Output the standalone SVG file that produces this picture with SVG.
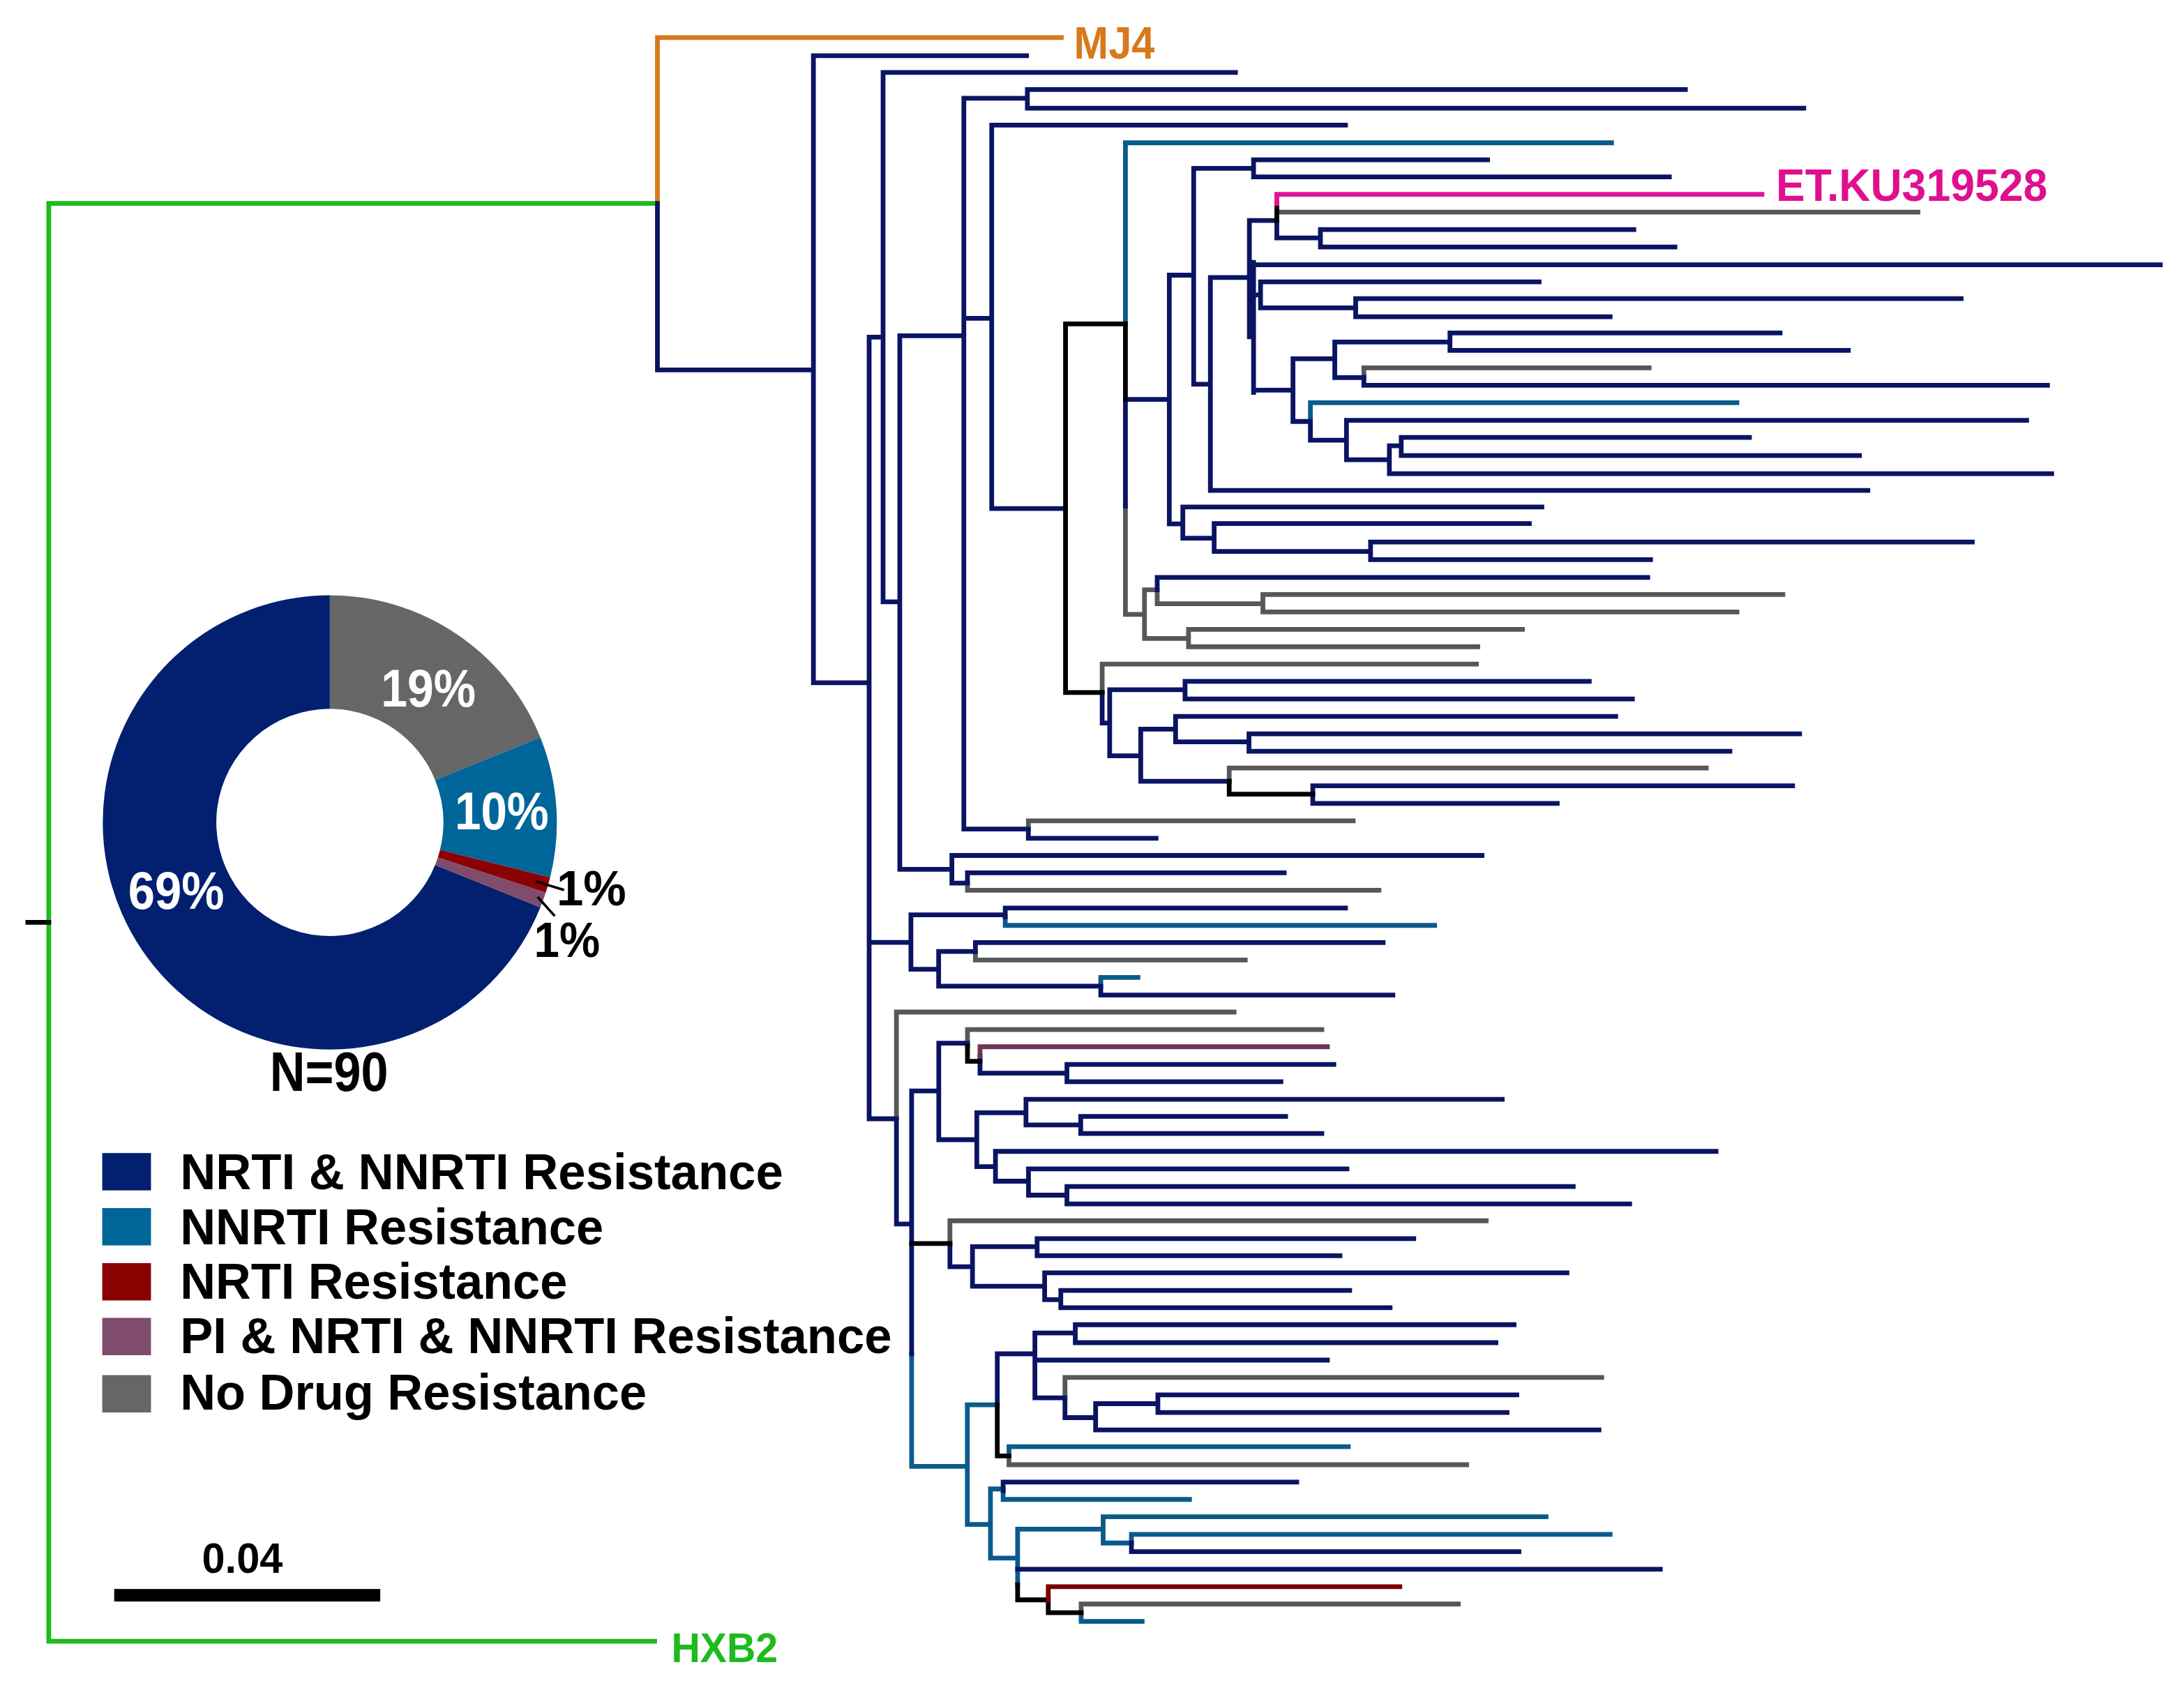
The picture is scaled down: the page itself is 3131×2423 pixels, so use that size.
<svg xmlns="http://www.w3.org/2000/svg" width="3131" height="2423" viewBox="0 0 3131 2423">
<style>
.br{fill:none;stroke-width:3.4;stroke-linecap:square}
.b{stroke:#0a1463}.t{stroke:#0b5a8c}.gy{stroke:#575757}.k{stroke:#000}.pu{stroke:#6b3656}.r{stroke:#7a0000}.pk{stroke:#e0139a}.gr{stroke:#1dbb1d}.or{stroke:#d67a1c}
text{font-family:"Liberation Sans",Arial,sans-serif;font-weight:bold}
.lab{font-size:32px}
.leg{font-size:36px;fill:#000}
.pct{font-size:38px;fill:#fff}
</style>
<rect width="3131" height="2423" fill="#fff"/>
<g transform="scale(1.99681 1.99753)">
<g id="connectors">
<path class="br gr" d="M35 146V1178M35 146H472M35 1178H470"/>
<path class="br or" d="M472 146V27H762"/>
<path class="br gy" d="M738.3 589.2V595M738.3 589.2H971.5M694.6 633V639M694.6 639H990M700.3 683V689M700.3 689H894M643.6 726.4V803M643.6 726.4H886M694.6 739V751M694.6 739H949M682 876.2V892.5M682 876.2H1067M764.6 988.7V1003.3M764.6 988.7H1150M724.4 1045V1051.3M724.4 1051.3H1053M776.2 1151.3V1157.5M776.2 1151.3H1047M916.7 152.3H1377M979.2 264V270.8M979.2 264H1184M808 363.3V441M808 441H821.7M821.7 423.3V458.3M821.7 423.3H830.8M830.8 423.3V433.3M830.8 433.3H906.7M906.7 426.7V439.2M906.7 426.7H1280M906.7 439.2H1247M821.7 458.3H853.3M853.3 451.7V464.2M853.3 451.7H1093M853.3 464.2H1061M791.3 476.7V497M791.3 476.7H1060M882.5 551.2V560.8M882.5 551.2H1225"/>
<path class="br t" d="M808 102.5V232.5M808 102.5H1157M721.7 658V664.2M721.7 664.2H1030M790.3 701.6V708M790.3 701.6H817M654.5 971.7V1052.5M654.5 1052.5H694.5M694.5 1008.3V1094.2M694.5 1008.3H716M724.4 1038.3V1045M724.4 1038.3H968M694.5 1094.2H711.1M711.1 1068.7V1118.3M711.1 1068.7H720.2M720.2 1070V1076.2M720.2 1076.2H854M711.1 1118.3H730.6M730.6 1097.5V1137.5M730.6 1097.5H792M792 1088.7V1107.5M792 1088.7H1110M792 1107.5H812.3M812.3 1101.3V1107.5M812.3 1101.3H1156M776.2 1157.5V1163.8M776.2 1163.8H820M940.8 289V302.5M940.8 289H1247"/>
<path class="br b" d="M472 146V265.5H584M584 40V490M584 40H737M584 490H624M624 242V803M624 242H634M634 52V432M634 52H887M634 432H646M646 241V624M646 241H692M692 70.5V595M692 70.5H737.6M737.6 64.3V77.7M737.6 64.3H1210M737.6 77.7H1295M692 228.5H712M712 89.8V365M712 89.8H966M712 365H765M692 595H738.3M738.3 595V601.7M738.3 601.7H830M646 624H683.4M683.4 614V633.8M683.4 614H1064M683.4 633.8H694.6M694.6 626.5V633M694.6 626.5H922M624 676.4H654M654 656.6V695.7M654 656.6H721.7M721.7 651.7V658M721.7 651.7H966M654 695.7H673.9M673.9 682.9V707.8M673.9 682.9H700.3M700.3 676.5V683M700.3 676.5H993M673.9 707.8H790.3M790.3 708V714.2M790.3 714.2H1000M624 803H643.6M643.6 803V878.5M643.6 878.5H654.5M654.5 783V971.7M654.5 783H674M674 748.7V818M674 748.7H694.6M703.6 758V770.3M703.6 770.3H766M766 764V776.4M766 764H957.6M766 776.4H919.6M674 818H701.3M701.3 798.7V837.3M701.3 798.7H736.6M736.6 789V807.4M736.6 789H1078.5M736.6 807.4H775.9M775.9 801.3V813.6M775.9 801.3H923M775.9 813.6H949M701.3 837.3H714.7M714.7 826.4V847.8M714.7 826.4H1232M714.7 847.8H738.4M738.4 839V857.8M738.4 839H967M738.4 857.8H766M766 851.6V864.1M766 851.6H1129.5M766 864.1H1170M682 892.5V909.2M682 909.2H698.2M698.2 894.8V923.2M698.2 894.8H744.6M744.6 889V901.3M744.6 889H1015M744.6 901.3H962M698.2 923.2H750M750 913.6V932.8M750 913.6H1125M750 932.8H761.6M761.6 926.2V938.6M761.6 926.2H969M761.6 938.6H998M716 971.7V1008.3M716 971.7H743M743 956.7V1003.3M743 956.7H772M772 950.8V963.7M772 950.8H1087M772 963.7H1074M743 976.2H953M743 1003.3H764.6M764.6 1003.3V1017.5M764.6 1017.5H786.6M786.6 1007.5V1026.3M786.6 1007.5H831.3M831.3 1001.2V1013.8M831.3 1001.2H1089M831.3 1013.8H1082M786.6 1026.3H1148M720.2 1063.8V1070M720.2 1063.8H931M812.3 1107.5V1113.7M812.3 1113.7H1090.5M730.6 1126.3H1192M808 286.7V363.3M808 286.7H839.5M839.5 197.5V376M839.5 197.5H857M857 120.8V275.8M857 120.8H900M900 114.7V127M900 114.7H1068M900 127H1198.5M857 275.8H869M869 199.2V352M869 352H1341M869 199.2H897M897 158.3V241.7M897 158.3H916.7M897 190H1551M916.7 158.3V170.8M916.7 170.8H948M948 164.8V177.3M948 164.8H1173M948 177.3H1202.5M900 188.3V281.7M900 211.7H905M905 202.3V221M905 202.3H1105M905 221H973.3M973.3 214.3V227.3M973.3 214.3H1408M973.3 227.3H1156M900 280H928.3M928.3 257.5V302.5M928.3 257.5H958.3M958.3 245.5V271M958.3 245.5H1041M1041 239V251.5M1041 239H1278M1041 251.5H1327M958.3 271H979.2M979.2 270.8V276.5M979.2 276.5H1470M928.3 302.5H940.8M940.8 302.5V316M940.8 316H966.7M966.7 301.7V330M966.7 301.7H1455M966.7 330H997.5M997.5 320V340M997.5 340H1473M997.5 320H1006M1006 314V327M1006 314H1256M1006 327H1335M839.5 376H849.2M849.2 363.9V386.3M849.2 363.9H1107M849.2 386.3H871.7M871.7 375.8V395.8M871.7 375.8H1098M871.7 395.8H984M984 389V401.7M984 389H1416M984 401.7H1185M830.8 414.5V423.3M830.8 414.5H1183M791.3 497V519M791.3 519H796.7M796.7 495V542.5M796.7 495H850.8M850.8 489V501.7M850.8 489H1141M850.8 501.7H1172M796.7 542.5H819M819 523.3V560.8M819 523.3H844M844 514.2V532.5M844 514.2H1160M844 532.5H896.7M896.7 526.7V539.2M896.7 526.7H1292M896.7 539.2H1242M819 560.8H882.5M942.5 564V576.7M942.5 564H1287M942.5 576.7H1118"/>
<path class="br k" d="M20 662H35M765 232.5V497M765 232.5H808M765 497H791.3M808 232.5V286.7M916.7 146V158.3M694.6 751V761.8M694.6 761.8H703.6M654.5 892.5H682M716 1008.3V1045M716 1045H724.4M730.6 1137.5V1148.3M730.6 1148.3H752.6M752.6 1148.3V1157.5M752.6 1157.5H776.2M882.5 560.8V570M882.5 570H942.5"/>
<path class="br pk" d="M916.7 146V139.5H1265"/>
<path class="br pu" d="M703.6 758V751.3H953"/>
<path class="br r" d="M752.6 1148.3V1138.8H1005"/>
</g>
<g id="label-MJ4"><text class="lab" x="771" y="42" fill="#d67a1c" textLength="58" lengthAdjust="spacingAndGlyphs">MJ4</text></g>
<g id="label-ET"><text class="lab" x="1275" y="144.3" fill="#df108f" textLength="195" lengthAdjust="spacingAndGlyphs">ET.KU319528</text></g>
<g id="label-HXB2"><text x="482" y="1193" font-size="30" fill="#1dbb1d" textLength="76.5" lengthAdjust="spacingAndGlyphs">HXB2</text></g>
<g id="pie">
<path fill="#666666" d="M236.8 427.3A163 163 0 0 1 387.93 529.24L312.37 559.77A81.5 81.5 0 0 0 236.8 508.8Z"/>
<path fill="#006699" d="M387.93 529.24A163 163 0 0 1 394.96 629.73L315.88 610.02A81.5 81.5 0 0 0 312.37 559.77Z"/>
<path fill="#8b0000" d="M394.96 629.73A163 163 0 0 1 391.82 640.67L314.31 615.49A81.5 81.5 0 0 0 315.88 610.02Z"/>
<path fill="#7f4c6b" d="M391.82 640.67A163 163 0 0 1 387.93 651.36L312.37 620.83A81.5 81.5 0 0 0 314.31 615.49Z"/>
<path fill="#02206f" d="M387.93 651.36A163 163 0 1 1 236.8 427.3L236.8 508.8A81.5 81.5 0 1 0 312.37 620.83Z"/>
<text class="pct" x="273.6" y="507" textLength="68" lengthAdjust="spacingAndGlyphs">19%</text>
<text class="pct" x="326.5" y="595" textLength="67.5" lengthAdjust="spacingAndGlyphs">10%</text>
<text class="pct" x="92" y="652.5" textLength="69" lengthAdjust="spacingAndGlyphs">69%</text>
<path d="M384.7 632.6L405 638.8M386 643.8L398.3 657.5" stroke="#000" stroke-width="1.8" fill="none"/>
<text x="399.6" y="650" font-size="35" fill="#000" textLength="50" lengthAdjust="spacingAndGlyphs">1%</text>
<text x="383.4" y="687" font-size="35" fill="#000" textLength="47.4" lengthAdjust="spacingAndGlyphs">1%</text>
<text x="193.7" y="783" font-size="40" fill="#000" textLength="85" lengthAdjust="spacingAndGlyphs">N=90</text>
</g>
<g id="legend">
<rect x="73.4" y="827.6" width="35" height="26.8" fill="#02206f"/>
<rect x="73.4" y="867.1" width="35" height="26.8" fill="#006699"/>
<rect x="73.4" y="906.6" width="35" height="26.8" fill="#8b0000"/>
<rect x="73.4" y="945.9" width="35" height="26.8" fill="#7f4c6b"/>
<rect x="73.4" y="987" width="35" height="26.8" fill="#666666"/>
<text class="leg" x="129.3" y="853.6" textLength="433" lengthAdjust="spacingAndGlyphs">NRTI &amp; NNRTI Resistance</text>
<text class="leg" x="129.3" y="893" textLength="304" lengthAdjust="spacingAndGlyphs">NNRTI Resistance</text>
<text class="leg" x="129.3" y="932" textLength="278" lengthAdjust="spacingAndGlyphs">NRTI Resistance</text>
<text class="leg" x="129.3" y="971" textLength="511" lengthAdjust="spacingAndGlyphs">PI &amp; NRTI &amp; NNRTI Resistance</text>
<text class="leg" x="129.3" y="1011.7" textLength="335" lengthAdjust="spacingAndGlyphs">No Drug Resistance</text>
</g>
<g id="scalebar">
<rect x="82" y="1140.5" width="191" height="9" fill="#000"/>
<text x="145" y="1129" font-size="31" fill="#000" textLength="58" lengthAdjust="spacingAndGlyphs">0.04</text>
</g>
</g>
</svg>
